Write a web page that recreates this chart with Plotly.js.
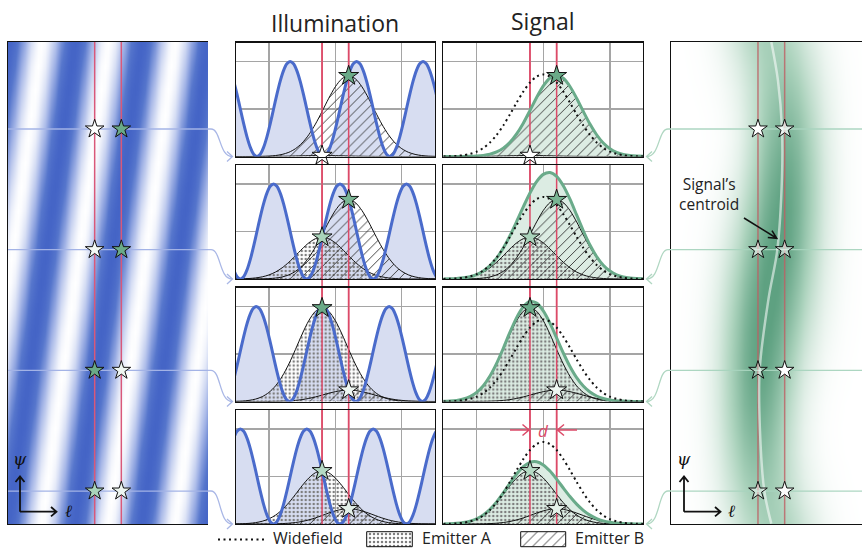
<!DOCTYPE html>
<html><head><meta charset="utf-8">
<script src="https://cdn.plot.ly/plotly-3.0.1.min.js"></script>
<style>html,body{margin:0;padding:0;background:#fff}#chart{width:862px;height:549px}</style>
</head><body><div id="chart"></div>
<script>
// ================= data =================
const emitterNames = ['Emitter A', 'Emitter B'];
const emitterX = [-0.2, 0.2];                    // positions of emitter A and B
const rowIndex = [1, 2, 3, 4];                   // the four illumination phases
const illumPeak = [0.32, 0.07, -0.19, -0.43];    // position of an illumination maximum in each row
const ampA = [0.02, 0.88, 1.97, 1.12];           // emitter A signal per row
const ampB = [1.70, 1.67, 0.24, 0.32];           // emitter B signal per row
const widefieldAmp = [1.0, 1.0];                 // uniform illumination level
// one period of the illumination profile, sampled every 0.05 starting at a maximum
const illumProfile = [2, 1.951, 1.809, 1.588, 1.309, 1, 0.691, 0.412, 0.191, 0.049,
                      0, 0.049, 0.191, 0.412, 0.691, 1, 1.309, 1.588, 1.809, 1.951];
const illumStep = 0.05;
// emitter spot profile vs distance from the emitter, sampled every 0.1
const psfProfile = [1, 0.964, 0.864, 0.72, 0.557, 0.401, 0.269, 0.167, 0.097, 0.052, 0.026, 0.012, 0.005, 0.002, 0.001];
const psfStep = 0.1;
const gridX = [-1.5,-1.4,-1.3,-1.2,-1.1,-1,-0.9,-0.8,-0.7,-0.6,-0.5,-0.4,-0.3,-0.2,-0.1,0,0.1,0.2,0.3,0.4,0.5,0.6,0.7,0.8,0.9,1,1.1,1.2,1.3,1.4,1.5];
const gridXFine = [-1.5,-1.45,-1.4,-1.35,-1.3,-1.25,-1.2,-1.15,-1.1,-1.05,-1,-0.95,-0.9,-0.85,-0.8,-0.75,-0.7,-0.65,-0.6,-0.55,-0.5,-0.45,-0.4,-0.35,-0.3,-0.25,-0.2,-0.15,-0.1,-0.05,0,0.05,0.1,0.15,0.2,0.25,0.3,0.35,0.4,0.45,0.5,0.55,0.6,0.65,0.7,0.75,0.8,0.85,0.9,0.95,1,1.05,1.1,1.15,1.2,1.25,1.3,1.35,1.4,1.45,1.5];
// tilted stripes: row position (in row units) and where the illumination maximum sits there
const stripeRowR = [-0.12,0.08,0.28,0.48,0.68,0.88,1.08,1.28,1.48,1.68,1.88,2.08,2.28,2.48,2.68,2.88,3.08,3.28,3.48,3.68,3.88,4.08,4.28,4.48];
const stripeRowPeak = [0.6,0.55,0.5,0.45,0.4,0.35,0.3,0.25,0.2,0.15,0.1,0.05,0,-0.05,-0.1,-0.15,-0.2,-0.25,-0.3,-0.35,-0.4,-0.45,-0.5,-0.55];
// signal centroid (white line in the right image)
const centroidR = [0.28, 0.6, 1.0, 1.4, 2.0, 2.4, 3.0, 3.5, 4.0, 4.27];
const centroidX = [0.0, 0.1, 0.16, 0.16, 0.09, -0.04, -0.175, -0.17, -0.105, 0.0];
// star fills
const starFillA = ['#ffffff', '#a9d3ba', '#6aaa88', '#b5dac4'];
const starFillB = ['#6aaa88', '#79b593', '#eef6f1', '#e4f1e9'];
const leftStarA = ['#ffffff', '#f2f8f4', '#6aaa88', '#a9d3ba'];
const leftStarB = ['#6aaa88', '#6aaa88', '#eef6f1', '#eef6f1'];
const rightStarA = [1.0, 0.55, 0.3, 0.45];
const rightStarB = [0.7, 0.55, 1.0, 0.95];
const titles = ['Illumination', 'Signal'];
const legendLabels = ['Widefield', 'Emitter A', 'Emitter B'];

// ================= helpers =================
const W = 862, H = 549;
const mod = (a, n) => ((a % n) + n) % n;
const psfAt = d => { const i = Math.round(Math.abs(d) / psfStep); return i < psfProfile.length ? psfProfile[i] : 0; };
const illumAt = (x, p) => illumProfile[mod(Math.round((x - p) / illumStep), illumProfile.length)];
function illumCurve(p) {
  const xs = [], ys = [];
  const k0 = Math.ceil((-1.6 - p) / illumStep), k1 = Math.floor((1.6 - p) / illumStep);
  for (let k = k0; k <= k1; k++) { xs.push(+(p + k * illumStep).toFixed(4)); ys.push(illumProfile[mod(k, illumProfile.length)]); }
  return {xs, ys};
}
const emitterCurve = (amp, c) => gridX.map(x => amp * psfAt(x - c));

const RED = '#dc4a68', BLUE = '#4a6bcb', BLUEFILL = '#d7ddf1', GREEN = '#6aab8a', GREENFILL = '#dcece3';
const patA = {shape: '.', fgcolor: '#7d7d7d', bgcolor: 'rgba(0,0,0,0)', size: 4, solidity: 0.3, fillmode: 'replace'};
const patB = {shape: '/', fgcolor: '#333', bgcolor: 'rgba(0,0,0,0)', size: 7, solidity: 0.13, fillmode: 'replace'};

const rowTopPx = [42.5, 165, 287.5, 410], panelH = 114;
const illumColPx = [235.7, 435], signalColPx = [443.3, 643.3];

const layout = {
  width: W, height: H, margin: {l: 0, r: 0, t: 0, b: 0, pad: 0},
  paper_bgcolor: '#ffffff', plot_bgcolor: 'rgba(0,0,0,0)', showlegend: false,
  font: {family: 'Open Sans, sans-serif', color: '#222'},
  shapes: [], annotations: []
};
function frameAxis(extra) {
  return Object.assign({showticklabels: false, ticks: '', zeroline: false, showgrid: false, showline: true,
    linecolor: '#111', linewidth: 1.1, fixedrange: true}, extra);
}
const dy = (t, b) => [1 - b / H, 1 - t / H];
layout.xaxis = frameAxis({domain: [8 / W, 208 / W], range: [-1.5, 1.5], mirror: true, anchor: 'y'});
layout.yaxis = frameAxis({domain: dy(42, 524), range: [4.273, 0.279], anchor: 'x'});
for (let k = 0; k < 4; k++) {
  for (let c = 0; c < 2; c++) {
    const n = 2 + k + 4 * c;
    const col = c ? signalColPx : illumColPx;
    const grid = {showgrid: true, gridcolor: '#a5a5a5', gridwidth: 1.4, mirror: true};
    layout['xaxis' + n] = frameAxis(Object.assign({domain: [col[0] / W, col[1] / W], range: [-1.5, 1.5], tickvals: [-1, 0, 1], anchor: 'y' + n}, grid));
    layout['yaxis' + n] = frameAxis(Object.assign({domain: dy(rowTopPx[k], rowTopPx[k] + panelH), range: [0, 2.4], tickvals: [1, 2], anchor: 'x' + n}, grid));
  }
}
layout.xaxis10 = frameAxis({domain: [671.3 / W, 1], range: [-1.5, 1.36], mirror: true, anchor: 'y10'});
layout.yaxis10 = frameAxis({domain: dy(42, 524), range: [4.273, 0.279], anchor: 'x10'});
layout.xaxis11 = {domain: [0, 1], range: [0, W], visible: false, fixedrange: true, anchor: 'y11'};
layout.yaxis11 = {domain: [0, 1], range: [H, 0], visible: false, fixedrange: true, anchor: 'x11'};

const traces = [];
const star = (xa, ya, xs, ys, fills, size) => ({
  type: 'scatter', mode: 'markers', x: xs, y: ys, xaxis: xa, yaxis: ya, cliponaxis: false, hoverinfo: 'skip',
  marker: {symbol: 'star', size: size || 15, color: fills, line: {color: '#111', width: 1}}
});
const vline = (xa, ya, c, y0, y1, color) => ({type: 'scatter', mode: 'lines', x: [c, c], y: [y0, y1], xaxis: xa, yaxis: ya,
  line: {color: color, width: 1.5}, hoverinfo: 'skip'});

// ---------- left: illumination image ----------
traces.push({type: 'heatmap', x: gridXFine, y: stripeRowR, z: stripeRowPeak.map(p => gridXFine.map(x => illumAt(x, p))),
  zmin: 0, zmax: 2, zsmooth: 'best', showscale: false, hoverinfo: 'skip', xaxis: 'x', yaxis: 'y',
  colorscale: [[0, '#ffffff'], [0.45, '#a3b4e6'], [0.8, '#5676cc'], [1, '#4464c6']]});
emitterX.forEach(c => traces.push(vline('x', 'y', c, -1, 6, '#d9587a')));
rowIndex.forEach(r => traces.push({type: 'scatter', mode: 'lines', x: [-1.5, 1.5], y: [r, r], xaxis: 'x', yaxis: 'y',
  line: {color: '#a3b3e6', width: 1.3}, hoverinfo: 'skip'}));
rowIndex.forEach((r, k) => traces.push(star('x', 'y', emitterX, [r, r], [leftStarA[k], leftStarB[k]], 14)));

// ---------- middle panels ----------
for (let k = 0; k < 4; k++) {
  const ni = 2 + k, ns = 6 + k;
  const xi = 'x' + ni, yi = 'y' + ni, xs = 'x' + ns, ys = 'y' + ns;
  const ill = illumCurve(illumPeak[k]);
  const gA = emitterCurve(ampA[k], emitterX[0]);
  const gB = emitterCurve(ampB[k], emitterX[1]);
  const sum = gridX.map((x, i) => gA[i] + gB[i]);
  const wf = gridX.map(x => widefieldAmp[0] * psfAt(x - emitterX[0]) + widefieldAmp[1] * psfAt(x - emitterX[1]));
  // illumination
  traces.push({type: 'scatter', mode: 'lines', x: ill.xs, y: ill.ys, xaxis: xi, yaxis: yi, fill: 'tozeroy',
    fillcolor: BLUEFILL, line: {width: 0, shape: 'spline', smoothing: 0.6}, hoverinfo: 'skip'});
  [[gA, patA], [gB, patB]].forEach(([g, pat]) => traces.push({type: 'scatter', mode: 'lines', x: gridX, y: g, xaxis: xi, yaxis: yi,
    fill: 'tozeroy', fillcolor: 'rgba(0,0,0,0)', fillpattern: pat, line: {color: '#111', width: 1, shape: 'spline', smoothing: 0.8}, hoverinfo: 'skip'}));
  emitterX.forEach(c => traces.push(vline(xi, yi, c, 0, 2.4, RED)));
  traces.push({type: 'scatter', mode: 'lines', x: ill.xs, y: ill.ys, xaxis: xi, yaxis: yi,
    line: {color: BLUE, width: 3, shape: 'spline', smoothing: 0.6}, hoverinfo: 'skip'});
  traces.push(star(xi, yi, emitterX, [ampA[k], ampB[k]], [starFillA[k], starFillB[k]]));
  // signal
  traces.push({type: 'scatter', mode: 'lines', x: gridX, y: sum, xaxis: xs, yaxis: ys, fill: 'tozeroy',
    fillcolor: GREENFILL, line: {width: 0, shape: 'spline', smoothing: 0.8}, hoverinfo: 'skip'});
  [[gA, patA], [gB, patB]].forEach(([g, pat]) => traces.push({type: 'scatter', mode: 'lines', x: gridX, y: g, xaxis: xs, yaxis: ys,
    fill: 'tozeroy', fillcolor: 'rgba(0,0,0,0)', fillpattern: pat, line: {color: '#111', width: 1, shape: 'spline', smoothing: 0.8}, hoverinfo: 'skip'}));
  emitterX.forEach(c => traces.push(vline(xs, ys, c, 0, 2.4, RED)));
  traces.push({type: 'scatter', mode: 'lines', x: gridX, y: sum, xaxis: xs, yaxis: ys,
    line: {color: GREEN, width: 3, shape: 'spline', smoothing: 0.8}, hoverinfo: 'skip'});
  traces.push({type: 'scatter', mode: 'lines', x: gridX, y: wf, xaxis: xs, yaxis: ys,
    line: {color: '#111', width: 2, dash: '2px,3.5px', shape: 'spline', smoothing: 0.8}, hoverinfo: 'skip'});
  traces.push(star(xs, ys, emitterX, [ampA[k], ampB[k]], [starFillA[k], starFillB[k]]));
}

// ---------- right: signal image ----------
traces.push({type: 'heatmap', x: gridX, y: stripeRowR,
  z: stripeRowPeak.map(p => { const iA = illumAt(emitterX[0], p), iB = illumAt(emitterX[1], p);
    return gridX.map(x => iA * psfAt(x - emitterX[0]) + iB * psfAt(x - emitterX[1])); }),
  zmin: 0, zmax: 2.2, zsmooth: 'best', showscale: false, hoverinfo: 'skip', xaxis: 'x10', yaxis: 'y10',
  colorscale: [[0, '#ffffff'], [0.5, '#acd3bd'], [1, '#5ea181']]});
emitterX.forEach(c => traces.push(vline('x10', 'y10', c, -1, 6, 'rgba(190,95,100,0.8)')));
rowIndex.forEach(r => traces.push({type: 'scatter', mode: 'lines', x: [-1.5, 1.5], y: [r, r], xaxis: 'x10', yaxis: 'y10',
  line: {color: 'rgba(168,212,190,0.95)', width: 1.3}, hoverinfo: 'skip'}));
traces.push({type: 'scatter', mode: 'lines', x: centroidX, y: centroidR, xaxis: 'x10', yaxis: 'y10',
  line: {color: 'rgba(255,255,255,0.55)', width: 2.5, shape: 'spline', smoothing: 1}, hoverinfo: 'skip'});
rowIndex.forEach((r, k) => traces.push(star('x10', 'y10', emitterX, [r, r],
  ['rgba(255,255,255,' + rightStarA[k] + ')', 'rgba(255,255,255,' + rightStarB[k] + ')'], 14)));

// ---------- legend swatches (overlay, pixel space) ----------
const box = (x0, x1, pat) => ({type: 'scatter', mode: 'lines', x: [x0, x1, x1, x0, x0], y: [531.7, 531.7, 546.7, 546.7, 531.7],
  xaxis: 'x11', yaxis: 'y11', fill: 'toself', fillcolor: 'rgba(0,0,0,0)', fillpattern: pat,
  line: {color: '#111', width: 1}, hoverinfo: 'skip'});
traces.push(box(366.7, 412.3, patA));
traces.push(box(520.7, 565.7, patB));

// ---------- decorations ----------
const S = layout.shapes, A = layout.annotations;
// red emitter lines spanning the gaps of the middle columns
['x2', 'x6'].forEach(xr => emitterX.forEach(c => S.push({type: 'line', xref: xr, yref: 'paper', x0: c, x1: c,
  y0: 1 - 524 / H, y1: 1 - 42.5 / H, layer: 'below', line: {color: RED, width: 1.5}})));
const rowPx = [129, 249.7, 370.3, 491];
const px = (d) => ({type: 'path', xref: 'x11', yref: 'y11', path: d.path, line: {color: d.color, width: d.w || 1.3}});
rowPx.forEach((yr, k) => {
  const yb = rowTopPx[k] + panelH;
  S.push(px({path: `M208,${yr} L211,${yr} C221,${yr} 219,${yb} 232,${yb}`, color: '#a9b7e6'}));
  S.push(px({path: `M227,${yb - 5} L232.5,${yb} L227,${yb + 5}`, color: '#a9b7e6'}));
  S.push(px({path: `M671.3,${yr} L668,${yr} C658,${yr} 660,${yb} 647,${yb}`, color: '#b0d7c2'}));
  S.push(px({path: `M652,${yb - 5} L646.5,${yb} L652,${yb + 5}`, color: '#b0d7c2'}));
});
// axis indicator arrows
[[20, 68], [684, 731.7]].forEach(([x0, lx]) => {
  S.push(px({path: `M${x0},511.7 L${x0},476.5 M${x0 - 4.5},482 L${x0},476.5 L${x0 + 4.5},482`, color: '#111', w: 1.8}));
  S.push(px({path: `M${x0},511.7 L${x0 + 36.5},511.7 M${x0 + 31},507 L${x0 + 36.5},511.7 L${x0 + 31},516.4`, color: '#111', w: 1.8}));
  A.push({xref: 'x11', yref: 'y11', x: x0 - 0.5, y: 459, text: '<i>ψ</i>', showarrow: false, font: {family: 'DejaVu Serif', size: 17, color: '#111'}});
  A.push({xref: 'x11', yref: 'y11', x: lx, y: 511, text: '<i>ℓ</i>', showarrow: false, font: {family: 'DejaVu Serif', size: 17, color: '#111'}});
});
// centroid label + arrow
A.push({xref: 'x11', yref: 'y11', x: 708.5, y: 194, text: 'Signal’s<br>centroid', showarrow: false, align: 'center',
  font: {family: 'Open Sans', size: 15.5, color: '#222'}});
S.push(px({path: 'M744,218 L776.7,238.3 M767.8,237.5 L776.7,238.3 L772,230.7', color: '#111', w: 1.6}));
// d arrows
S.push(px({path: 'M510,430 L529,430 M522.5,424.5 L529,430 L522.5,435.5', color: RED, w: 1.5}));
S.push(px({path: 'M577,430 L557.5,430 M564,424.5 L557.5,430 L564,435.5', color: RED, w: 1.5}));
A.push({xref: 'x11', yref: 'y11', x: 543.3, y: 430, text: '<i>d</i>', showarrow: false, font: {family: 'Open Sans', size: 17, color: RED}});
// titles
A.push({xref: 'x11', yref: 'y11', x: 335, y: 23, text: titles[0], showarrow: false, font: {family: 'Open Sans', size: 23, color: '#222'}});
A.push({xref: 'x11', yref: 'y11', x: 543, y: 21, text: titles[1], showarrow: false, font: {family: 'Open Sans', size: 23, color: '#222'}});
// legend
S.push({type: 'line', xref: 'x11', yref: 'y11', x0: 218, x1: 265, y0: 539.5, y1: 539.5, line: {color: '#111', width: 2, dash: '2px,3.5px'}});
[[270.5, legendLabels[0]], [419.5, legendLabels[1]], [572.5, legendLabels[2]]].forEach(([x, t]) =>
  A.push({xref: 'x11', yref: 'y11', x: x, y: 537.8, xanchor: 'left', yanchor: 'middle', text: t, showarrow: false,
    font: {family: 'Open Sans', size: 16, color: '#222'}}));

Plotly.newPlot('chart', traces, layout, {staticPlot: true, displayModeBar: false});
</script></body></html>
